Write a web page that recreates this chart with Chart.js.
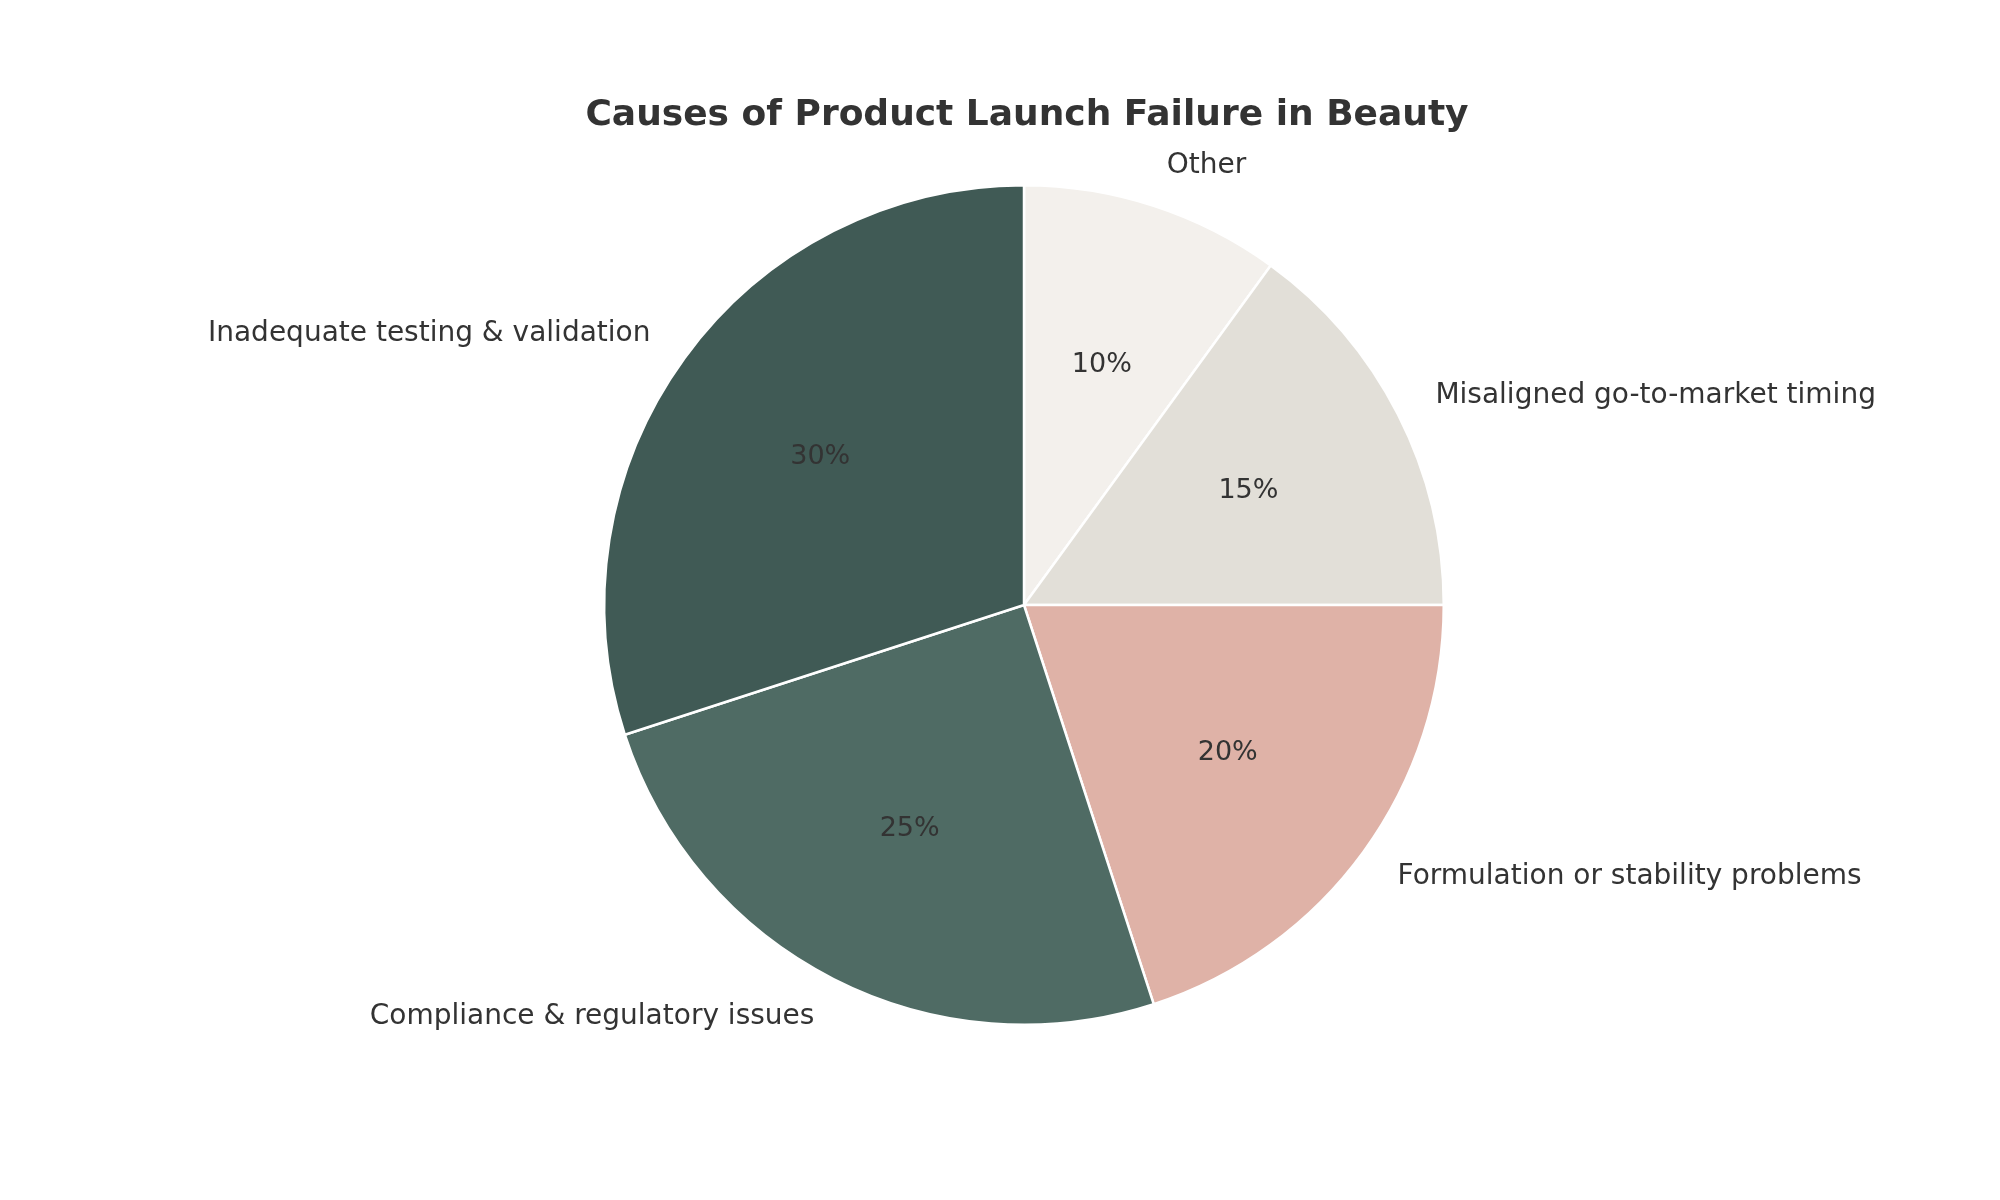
<!DOCTYPE html>
<html>
<head>
<meta charset="utf-8">
<script src="https://cdn.jsdelivr.net/npm/chart.js@4"></script>
<style>
  html, body { margin: 0; padding: 0; background: #ffffff; }
  #wrap { width: 2000px; height: 1200px; }
</style>
</head>
<body>
<div id="wrap"><canvas id="GraficoCausas" width="2000" height="1200"></canvas></div>
<script>
// dados em ordem horaria a partir do topo (igual ao original, que vai anti-horario)
var causas = ['Other', 'Misaligned go-to-market timing', 'Formulation or stability problems', 'Compliance & regulatory issues', 'Inadequate testing & validation'];
var percentuais = [10, 15, 20, 25, 30];
var cores = ['#f3f0ec', '#e2dfd8', '#dfb2a7', '#4f6b64', '#405a55'];
var titulo = 'Causes of Product Launch Failure in Beauty';

var corTexto = '#333333';
var fonte = '"DejaVu Sans", Verdana, sans-serif';

// escreve titulo, nomes fora da pizza e percentuais dentro
var rotulosPizza = {
    id: 'rotulosPizza',
    afterDatasetsDraw: function (chart) {
        var ctx = chart.ctx;
        var meta = chart.getDatasetMeta(0);
        var total = percentuais.reduce(function (a, b) { return a + b; }, 0);

        ctx.save();
        ctx.fillStyle = corTexto;
        ctx.textBaseline = 'middle';

        ctx.font = 'bold 36px ' + fonte;
        ctx.textAlign = 'center';
        ctx.fillText(titulo, 1027, 116);

        meta.data.forEach(function (arco, i) {
            var p = arco.getProps(['x', 'y', 'startAngle', 'endAngle', 'outerRadius'], true);
            var meio = (p.startAngle + p.endAngle) / 2;
            var cx = Math.cos(meio), cy = Math.sin(meio);

            var lx = p.x + p.outerRadius * 1.1 * cx;
            var ly = p.y + p.outerRadius * 1.1 * cy;
            ctx.font = '28px ' + fonte;
            ctx.textAlign = cx >= 0 ? 'left' : 'right';
            ctx.fillText(causas[i], lx, ly);

            var px = p.x + p.outerRadius * 0.6 * cx;
            var py = p.y + p.outerRadius * 0.6 * cy;
            ctx.font = '27px ' + fonte;
            ctx.textAlign = 'center';
            ctx.fillText(Math.round(percentuais[i] / total * 100) + '%', px, py);
        });
        ctx.restore();
    }
};

new Chart(document.getElementById('GraficoCausas'), {
    type: 'pie',
    data: {
        labels: causas,
        datasets: [{
            data: percentuais,
            backgroundColor: cores,
            borderColor: '#ffffff',
            borderWidth: 2.5
        }]
    },
    options: {
        responsive: false,
        devicePixelRatio: 1,
        animation: false,
        rotation: 0,
        layout: {
            padding: { left: 603, right: 555, top: 184, bottom: 174 }
        },
        plugins: {
            legend: { display: false },
            tooltip: { enabled: false },
            title: { display: false }
        }
    },
    plugins: [rotulosPizza]
});
</script>
</body>
</html>
